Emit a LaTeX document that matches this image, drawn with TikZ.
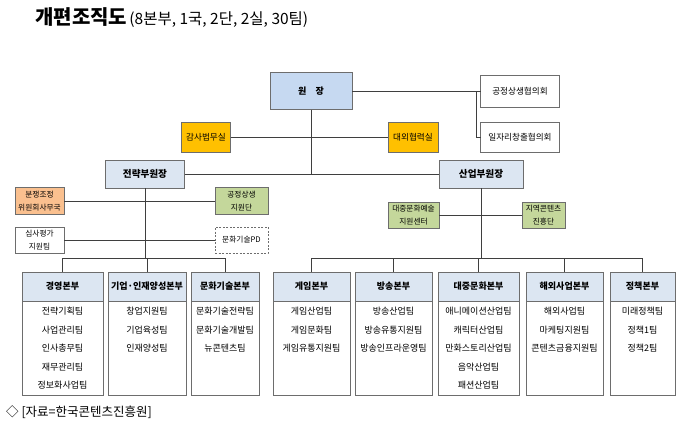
\documentclass[tikz,border=0pt]{standalone}
\usepackage{fontspec}
\setmainfont{Noto Sans CJK KR}
\usetikzlibrary{positioning}

\definecolor{linegray}{HTML}{3F3F3F}
\definecolor{boxgray}{HTML}{6D6D6D}
\definecolor{chiefblue}{HTML}{C6D9F1}
\definecolor{hdrblue}{HTML}{DCE6F2}
\definecolor{gold}{HTML}{FFC000}
\definecolor{peach}{HTML}{FAC08F}
\definecolor{leafgreen}{HTML}{C4D79B}

\begin{document}
\begin{tikzpicture}[x=1pt,y=-1pt,on grid,
    line/.style={draw=linegray,line width=0.8pt},
    box/.style={draw=boxgray,line width=0.8pt,outer sep=0pt,inner sep=1pt,align=center,font=\fontsize{8.6}{10}\selectfont},
    chief/.style={box,fill=chiefblue,font=\bfseries\fontsize{9}{10}\selectfont},
    vice/.style={box,fill=hdrblue,font=\bfseries\fontsize{9.6}{11}\selectfont},
    office/.style={box,fill=gold},
    council/.style={box,fill=white},
    small/.style={box,font=\fontsize{7.7}{13}\selectfont},
    hdr/.style={box,fill=hdrblue,minimum height=29pt,font=\bfseries\fontsize{9}{10}\selectfont},
    body/.style={box,minimum height=94pt},
    items/.style={align=center,inner sep=0pt,font=\fontsize{9}{18.5}\selectfont}]

    \fill[white] (0,0) rectangle (680,424);
    \useasboundingbox (0,0) rectangle (680,424);

    % title
    \node[anchor=west,inner sep=0pt] (title) at (35,18)
        {{\bfseries\fontsize{20}{22}\selectfont 개편조직도}\ {\fontsize{15.5}{18}\selectfont (8본부, 1국, 2단, 2실, 30팀)}};

    % top level
    \node[chief,minimum width=82pt,minimum height=37pt] (won) at (311,91) {원\hspace{1em}장};
    \node[council,minimum width=79pt,minimum height=32pt] (hyup1) at (520,91) {공정상생협의회};
    \node[council,minimum width=79pt,minimum height=30pt,below=46pt of hyup1] (hyup2) {일자리창출협의회};
    \node[office,minimum width=49pt,minimum height=30pt] (gamsa) at (206,137) {감사법무실};
    \node[office,minimum width=50pt,minimum height=30pt] (daeoe) at (413,137) {대외협력실};

    % vice presidents
    \node[vice,minimum width=79pt,minimum height=28pt] (jeonryak) at (145,174) {전략부원장};
    \node[vice,minimum width=84pt,minimum height=28pt] (saneop) at (481,174) {산업부원장};

    % units under the vice presidents
    \node[small,fill=peach,minimum width=49pt,minimum height=27pt] (bunjaeng) at (39.5,201) {분쟁조정\\위원회사무국};
    \node[small,fill=leafgreen,minimum width=53pt,minimum height=27pt,right=202pt of bunjaeng] (gongjeong) {공정상생\\지원단};
    \node[small,fill=white,minimum width=49pt,minimum height=26pt] (simsa) at (39.5,240) {심사평가\\지원팀};
    \node[small,fill=white,dash pattern=on 2pt off 1.5pt,minimum width=53pt,minimum height=26pt,right=202pt of simsa] (pd) {문화기술PD};
    \node[small,fill=leafgreen,minimum width=51pt,minimum height=26pt] (daejungC) at (413.5,215) {대중문화예술\\지원센터};
    \node[small,fill=leafgreen,minimum width=43pt,minimum height=26pt] (jiyeok) at (543.5,215) {지역콘텐츠\\진흥단};

    % divisions
    \foreach \nm/\xl/\xr/\head/\teams in {
        kyeong/22/103/경영본부/{전략기획팀\\사업관리팀\\인사총무팀\\재무관리팀\\정보화사업팀},
        kieop/108/186/기업·인재양성본부/{창업지원팀\\기업육성팀\\인재양성팀},
        munhwa/191/259/문화기술본부/{문화기술전략팀\\문화기술개발팀\\뉴콘텐츠팀},
        game/273/350/게임본부/{게임산업팀\\게임문화팀\\게임유통지원팀},
        bangsong/355/432/방송본부/{방송산업팀\\방송유통지원팀\\방송인프라운영팀},
        daejung/438/519/대중문화본부/{애니메이션산업팀\\캐릭터산업팀\\만화스토리산업팀\\음악산업팀\\패션산업팀},
        haeoe/526/603/해외사업본부/{해외사업팀\\마케팅지원팀\\콘텐츠금융지원팀},
        jeongchaek/610/675/정책본부/{미래정책팀\\정책1팀\\정책2팀}}{
        \node[hdr,minimum width={(\xr-\xl)*1pt},anchor=north] (h\nm) at ({(\xl+\xr)/2},272) {\head};
        \node[body,minimum width={(\xr-\xl)*1pt},anchor=north] (b\nm) at (h\nm.south) {};
        \node[items,anchor=north] (t\nm) at ([yshift=-6pt]b\nm.north) {\teams};
    }

    % connectors
    \coordinate (brk) at (476,0);
    \coordinate (bus) at (0,258);
    \draw[line] (won) -- (hyup1);
    \draw[line] (brk |- hyup1) |- (hyup2.west);
    \draw[line] (won.south) -- (won.south |- jeonryak);
    \draw[line] (gamsa) -- (daeoe);
    \draw[line] (jeonryak) -- (saneop);
    \draw[line] (jeonryak.south) -- (jeonryak.south |- bus);
    \draw[line] (bunjaeng) -- (gongjeong);
    \draw[line] (simsa) -- (pd);
    \draw[line] (saneop.south) -- (saneop.south |- bus);
    \draw[line] (daejungC) -- (jiyeok);
    \draw[line] (hkyeong.north) |- (bus -| hmunhwa) -- (hmunhwa.north);
    \draw[line] (hkieop.north) -- (hkieop.north |- bus);
    \draw[line] (hgame.north) |- (bus -| hjeongchaek) -- (hjeongchaek.north);
    \foreach \nm in {bangsong,daejung,haeoe}
        \draw[line] (h\nm.north) -- (h\nm.north |- bus);

    % source
    \node[anchor=west,inner sep=0pt,font=\fontsize{12.5}{14}\selectfont] (source) at (6,412) {◇ [자료=한국콘텐츠진흥원]};
\end{tikzpicture}
\end{document}
